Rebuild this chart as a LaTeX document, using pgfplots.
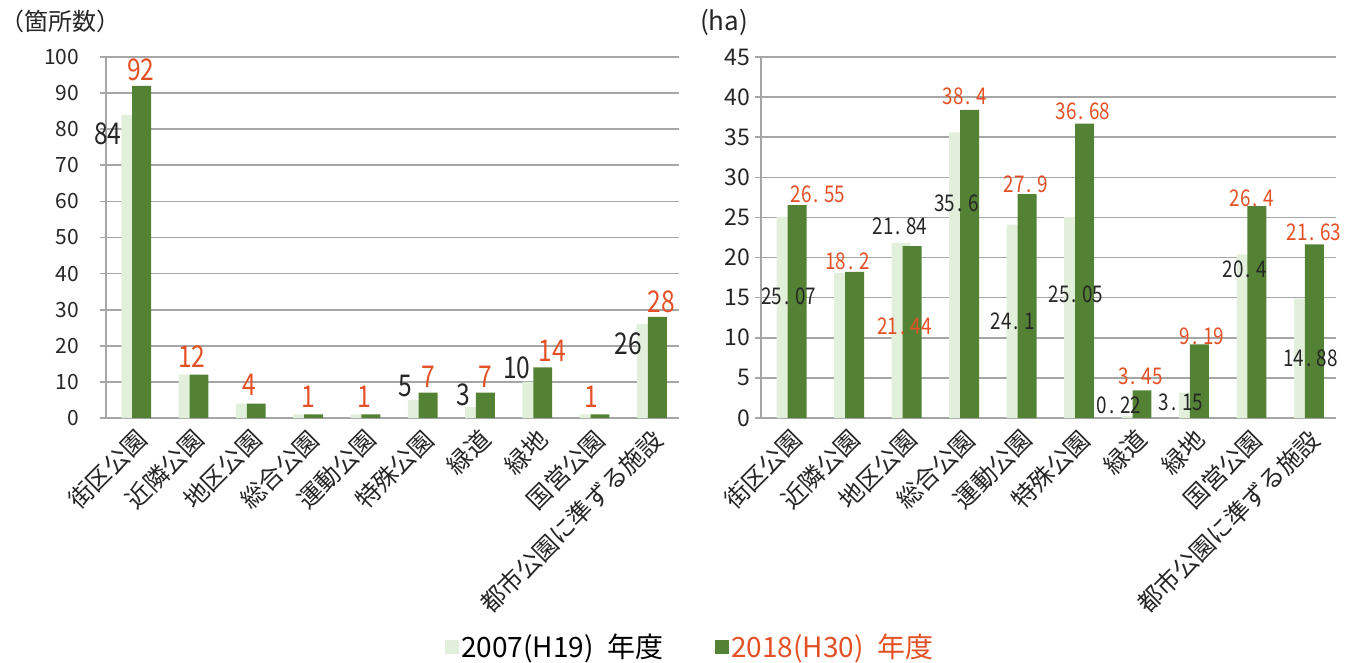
\documentclass[border=0pt]{standalone}
\usepackage{pgfplots}
\pgfplotsset{compat=1.18}
\usepackage{fontspec}
\setmainfont{Noto Sans CJK JP}
\newfontfamily\numfont[FakeStretch=0.82]{Noto Sans CJK JP}

\definecolor{lightg}{RGB}{226,239,218}
\definecolor{darkg}{RGB}{84,130,53}
\definecolor{lblred}{RGB}{228,80,38}
\definecolor{lblblk}{RGB}{38,38,38}
\definecolor{gridc}{RGB}{166,166,166}

% decimal point with the wide spacing of the original labels
\newcommand\dt{\makebox[0.55em][l]{\hspace{0.08em}.}}

\newcommand\fs[1]{\fontsize{#1}{#1}\selectfont}

\tikzset{
  rlab/.style={font=\numfont\fs{#1}, text=lblred, inner sep=0pt},
  klab/.style={font=\numfont\fs{#1}, text=lblblk, inner sep=0pt},
}

\pgfplotsset{
  parkaxis/.style={
    scale only axis,
    anchor=south west,
    height=361pt,
    xmin=-0.5, xmax=9.5,
    ymin=0,
    enlargelimits=false,
    axis lines*=left,
    axis line style={gridc, line width=1.6pt},
    ymajorgrids,
    major grid style={gridc, line width=1.6pt},
    xtick={0,...,9},
    xticklabels={街区公園,近隣公園,地区公園,総合公園,運動公園,特殊公園,緑道,緑地,国営公園,都市公園に準ずる施設},
    xtick style={draw=none},
    ytick style={gridc, line width=1.6pt},
    tick align=outside,
    major tick length=6pt,
    xticklabel style={rotate=45, anchor=north east, font=\fs{24.5}, text=lblblk, inner sep=2pt},
    yticklabel style={font=\fs{21}, text=lblblk},
    /pgf/number format/assume math mode=true,
    clip=false,
    legend style={draw=none, fill=none, inner sep=0pt, font=\fs{28}, anchor=west,
      /tikz/every even column/.append style={column sep=2pt}},
    legend image code/.code={\path[#1,draw=none] (0pt,-7pt) rectangle (14pt,7pt);},
  },
  lightbar/.style={ybar, fill=lightg, draw=none, bar width=0.33, bar shift=-0.062},
  darkbar/.style={ybar, fill=darkg, draw=none, bar width=0.33, bar shift=0.128},
}

\begin{document}
\begin{tikzpicture}[x=1pt,y=1pt]
\path[use as bounding box] (0,0) rectangle (1362,662);

% number of parks
\begin{axis}[parkaxis, at={(105.7pt,244pt)}, width=572.9pt,
  ymax=100, ytick={0,10,...,100},
  yticklabel style={xshift=-17pt},
  legend style={at={(0.592,-0.633)}}]
\addplot[lightbar] coordinates {(0,84) (1,12) (2,4) (3,1) (4,1) (5,5) (6,3) (7,10) (8,1) (9,26)};
\addlegendentry{2007(H19)\hspace{0.5em}年度}
\addplot[darkbar, forget plot] coordinates {(0,92) (1,12) (2,4) (3,1) (4,1) (5,7) (6,7) (7,14) (8,1) (9,28)};
% values for 2018
\node[rlab=30] at (axis cs:0.116,96.4) {92};
\node[rlab=30] at (axis cs:1.006,16.97) {12};
\node[rlab=30] at (axis cs:2.012,9.22) {4};
\node[rlab=30] at (axis cs:3.038,5.9) {1};
\node[rlab=30] at (axis cs:4.009,5.9) {1};
\node[rlab=30] at (axis cs:5.126,11.43) {7};
\node[rlab=30] at (axis cs:6.121,11.43) {7};
\node[rlab=30] at (axis cs:7.29,18.63) {14};
\node[rlab=30] at (axis cs:7.971,5.9) {1};
\node[rlab=30] at (axis cs:9.203,32.19) {28};
% values for 2007
\node[klab=30] at (axis cs:-0.463,78.69) {84};
\node[klab=30] at (axis cs:4.724,8.75) {5};
\node[klab=30] at (axis cs:5.737,6.45) {3};
\node[klab=30] at (axis cs:6.679,13.92) {10};
\node[klab=30] at (axis cs:8.617,20.56) {26};
\end{axis}

% area
\begin{axis}[parkaxis, at={(761pt,244pt)}, width=574.8pt,
  ymax=45, ytick={0,5,...,45},
  yticklabel style={xshift=-1pt, font=\fs{23}},
  legend style={at={(-0.08,-0.633)}, text=lblred}]
\addplot[lightbar, forget plot] coordinates {(0,25.07) (1,18.1) (2,21.84) (3,35.6) (4,24.1) (5,25.05) (6,0.22) (7,3.15) (8,20.4) (9,14.88)};
\addplot[darkbar] coordinates {(0,26.55) (1,18.2) (2,21.44) (3,38.4) (4,27.9) (5,36.68) (6,3.45) (7,9.19) (8,26.4) (9,21.63)};
\addlegendentry{2018(H30)\hspace{0.5em}年度}
% values for 2018
\node[rlab=23] at (axis cs:0.492,27.9) {26\dt55};
\node[rlab=23] at (axis cs:1.005,19.56) {18\dt2};
\node[rlab=23] at (axis cs:1.998,11.48) {21\dt44};
\node[rlab=23] at (axis cs:3.049,40.09) {38\dt4};
\node[rlab=23] at (axis cs:4.110,29.18) {27\dt9};
\node[rlab=23] at (axis cs:5.102,38.22) {36\dt68};
\node[rlab=23] at (axis cs:6.104,5.26) {3\dt45};
\node[rlab=23] at (axis cs:7.172,10.24) {9\dt19};
\node[rlab=23] at (axis cs:8.042,27.44) {26\dt4};
\node[rlab=23] at (axis cs:9.121,23.11) {21\dt63};
% values for 2007
\node[klab=23] at (axis cs:-0.018,15.21) {25\dt07};
\node[klab=23] at (axis cs:1.918,23.92) {21\dt84};
\node[klab=23] at (axis cs:2.901,26.82) {35\dt6};
\node[klab=23] at (axis cs:3.879,12.10) {24\dt1};
\node[klab=23] at (axis cs:4.980,15.46) {25\dt05};
\node[klab=23] at (axis cs:5.728,1.53) {0\dt22};
\node[klab=23] at (axis cs:6.807,1.94) {3\dt15};
\node[klab=23] at (axis cs:7.920,18.57) {20\dt4};
\node[klab=23] at (axis cs:9.062,7.50) {14\dt88};
\end{axis}

% unit captions
\node[font=\fs{24}, text=lblblk, inner sep=0pt, anchor=west] at (0.5,641) {（箇所数）};
\node[font=\fs{26}, text=lblblk, inner sep=0pt] at (724,640) {(ha)};
\end{tikzpicture}
\end{document}
